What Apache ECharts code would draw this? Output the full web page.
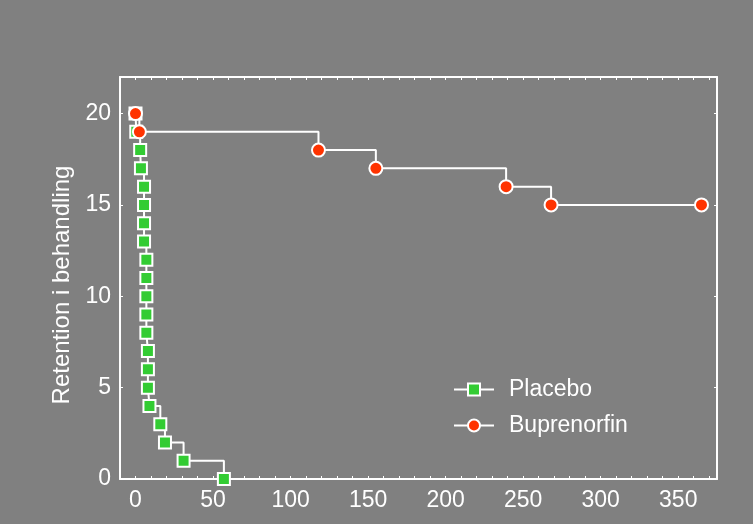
<!DOCTYPE html>
<html>
<head>
<meta charset="utf-8">
<script src="https://cdn.jsdelivr.net/npm/echarts@6/dist/echarts.min.js"></script>
<style>
html,body{margin:0;padding:0;background:#808080;}
#c{width:753px;height:524px;}
</style>
</head>
<body>
<div id="c"></div>
<script>
var seriesNames = ['Placebo', 'Buprenorfin'];
var placeboX = [0, 0.5, 3, 3.5, 5.5, 5.5, 5.5, 5.5, 7, 7, 7, 7, 7, 8, 8, 8, 9, 16, 19, 31, 57];
var placeboY = [20, 19, 18, 17, 16, 15, 14, 13, 12, 11, 10, 9, 8, 7, 6, 5, 4, 3, 2, 1, 0];
var bupX = [0, 2.5, 118, 155, 239, 268, 365];
var bupY = [20, 19, 18, 17, 16, 15, 15];
var xTickLabels = [0, 50, 100, 150, 200, 250, 300, 350];
var yTickLabels = [0, 5, 10, 15, 20];
var xMinorTicks = [0, 10, 20, 30, 40, 50, 60, 70, 80, 90, 100, 110, 120, 130, 140, 150, 160, 170, 180, 190, 200, 210, 220, 230, 240, 250, 260, 270, 280, 290, 300, 310, 320, 330, 340, 350, 360, 370];
var yAxisTitle = 'Retention i behandling';

function zip(xs, ys) { return xs.map(function (x, i) { return [x, ys[i]]; }); }

var font = 'Liberation Sans, Arial, sans-serif';
var chart = echarts.init(document.getElementById('c'), null, {renderer: 'canvas'});
var axLine = {show: true, onZero: false, lineStyle: {color: '#fff', width: 2}};
chart.setOption({
  backgroundColor: '#808080',
  animation: false,
  textStyle: {fontFamily: font},
  grid: {left: 120, right: 36, top: 77, bottom: 45, show: false},
  legend: {
    orient: 'vertical', left: 448, top: 373,
    itemWidth: 40, itemHeight: 15, itemGap: 13,
    textStyle: {color: '#fff', fontSize: 23, fontFamily: font, padding: [0, 0, 0, 10]},
    data: seriesNames
  },
  xAxis: [{
    type: 'value', min: -10, max: 375, position: 'bottom',
    axisLine: axLine,
    axisTick: {show: true, inside: true, length: 3, customValues: xMinorTicks, lineStyle: {color: '#fff', width: 1}},
    axisLabel: {color: '#fff', fontSize: 23, fontFamily: font, margin: 10, customValues: xTickLabels},
    splitLine: {show: false}
  }, {
    type: 'value', min: -10, max: 375, position: 'top',
    axisLine: axLine,
    axisTick: {show: true, inside: true, length: 3, customValues: xMinorTicks, lineStyle: {color: '#fff', width: 1}},
    axisLabel: {show: false},
    splitLine: {show: false}
  }],
  yAxis: [{
    type: 'value', min: 0, max: 22, position: 'left',
    name: yAxisTitle, nameLocation: 'middle', nameGap: 42, nameRotate: 90,
    nameTextStyle: {color: '#fff', fontSize: 24, fontFamily: font, padding: [0, 14, 0, 0]},
    axisLine: axLine,
    axisTick: {show: true, inside: true, length: 3, customValues: yTickLabels, lineStyle: {color: '#fff', width: 1}},
    axisLabel: {color: '#fff', fontSize: 23, fontFamily: font, margin: 9, customValues: yTickLabels},
    splitLine: {show: false}
  }, {
    type: 'value', min: 0, max: 22, position: 'right',
    axisLine: axLine,
    axisTick: {show: true, inside: true, length: 3, customValues: yTickLabels, lineStyle: {color: '#fff', width: 1}},
    axisLabel: {show: false},
    splitLine: {show: false}
  }],
  series: [{
    name: seriesNames[0], type: 'line', step: 'end', z: 3,
    data: zip(placeboX, placeboY),
    symbol: 'rect', symbolSize: 12,
    lineStyle: {color: '#fff', width: 2},
    itemStyle: {color: '#33cc33', borderColor: '#fff', borderWidth: 2},
    emphasis: {disabled: true}
  }, {
    name: seriesNames[1], type: 'line', step: 'end', z: 4,
    data: zip(bupX, bupY),
    symbol: 'circle', symbolSize: 13,
    lineStyle: {color: '#fff', width: 2},
    itemStyle: {color: '#ff3300', borderColor: '#fff', borderWidth: 2},
    emphasis: {disabled: true}
  }]
});
</script>
</body>
</html>
